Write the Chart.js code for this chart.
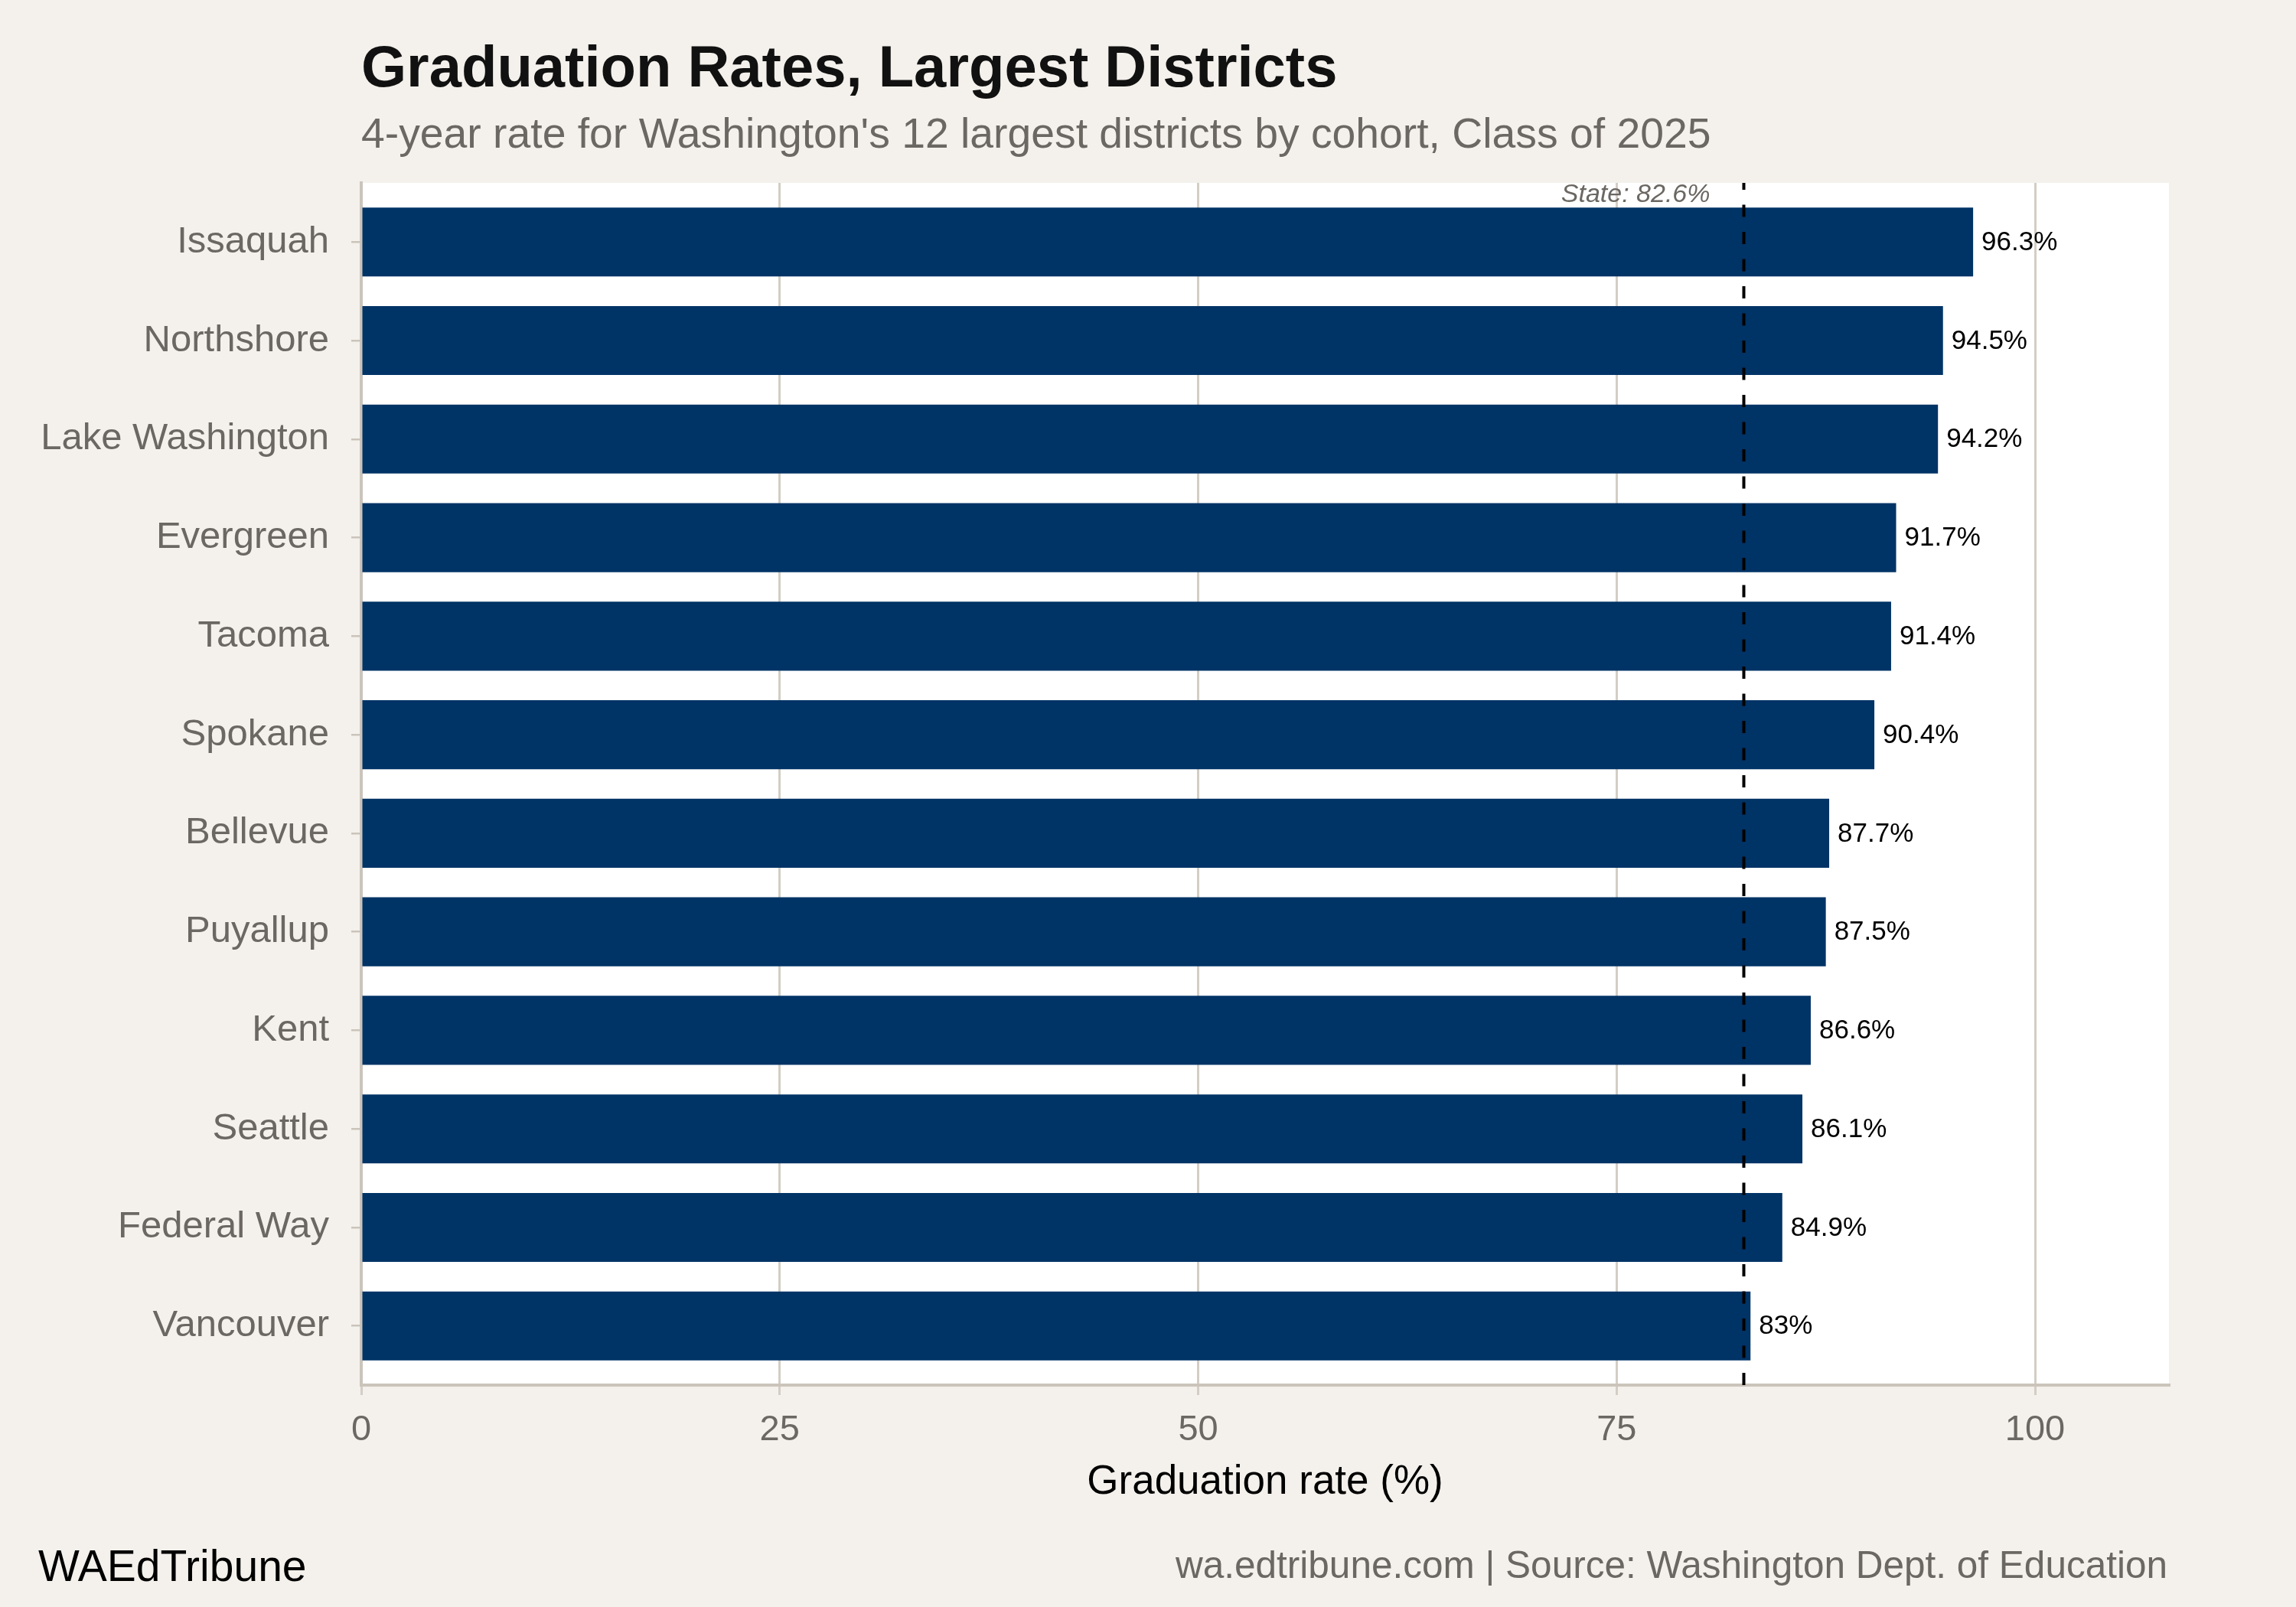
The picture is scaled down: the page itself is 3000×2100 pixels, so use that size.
<!DOCTYPE html>
<html>
<head>
<meta charset="utf-8">
<title>Graduation Rates, Largest Districts</title>
<script src="https://cdn.jsdelivr.net/npm/chart.js@4.4.1/dist/chart.umd.min.js"></script>
<style>
  html, body { margin: 0; padding: 0; background: #f4f1ec; }
  canvas { display: block; }
</style>
</head>
<body>
<canvas id="chart" width="3000" height="2100"></canvas>
<script>
// data, top to bottom as drawn
var districts = ['Issaquah', 'Northshore', 'Lake Washington', 'Evergreen', 'Tacoma', 'Spokane',
  'Bellevue', 'Puyallup', 'Kent', 'Seattle', 'Federal Way', 'Vancouver'];
var rates = [96.3, 94.5, 94.2, 91.7, 91.4, 90.4, 87.7, 87.5, 86.6, 86.1, 84.9, 83];
var xTicks = [0, 25, 50, 75, 100];
var stateRate = 82.6;

var BG = '#f4f1ec';
var BAR = '#003366';
var GRID = '#d3cdc5';
var AXIS = '#cbc4bb';
var GRAY_TEXT = '#6b6762';
var FONT = '"Liberation Sans", Arial, Helvetica, sans-serif';

Chart.defaults.font.family = FONT;

var points = rates.map(function (v, i) { return { x: v, y: i + 1 }; });

var panelPlugin = {
  id: 'panel',
  beforeDraw: function (chart) {
    var ctx = chart.ctx, a = chart.chartArea;
    ctx.save();
    ctx.fillStyle = BG;
    ctx.fillRect(0, 0, chart.width, chart.height);
    ctx.fillStyle = '#ffffff';
    ctx.fillRect(a.left, a.top, a.right - a.left, a.bottom - a.top);
    ctx.restore();
  }
};

var annotatePlugin = {
  id: 'annotate',
  afterDatasetsDraw: function (chart) {
    var ctx = chart.ctx, a = chart.chartArea;
    var xs = chart.scales.x;
    var sx = xs.getPixelForValue(stateRate);

    // value labels
    ctx.save();
    ctx.fillStyle = '#000000';
    ctx.font = '35px ' + FONT;
    ctx.textAlign = 'left';
    ctx.textBaseline = 'middle';
    chart.getDatasetMeta(0).data.forEach(function (bar, i) {
      ctx.fillText(String(rates[i]) + '%', bar.x + 11, bar.y + 1);
    });
    ctx.restore();

    // state average line, dashes laid from the bottom up
    ctx.save();
    ctx.strokeStyle = '#000000';
    ctx.lineWidth = 4;
    ctx.setLineDash([16, 19.5]);
    ctx.beginPath();
    ctx.moveTo(sx, a.bottom);
    ctx.lineTo(sx, a.top);
    ctx.stroke();
    ctx.restore();

    ctx.save();
    ctx.fillStyle = GRAY_TEXT;
    ctx.font = 'italic 34px ' + FONT;
    ctx.textAlign = 'right';
    ctx.textBaseline = 'alphabetic';
    ctx.fillText('State: ' + stateRate + '%', sx - 44, 264);
    ctx.restore();
  },
  afterDraw: function (chart) {
    var ctx = chart.ctx, a = chart.chartArea;
    ctx.save();
    ctx.textBaseline = 'alphabetic';

    ctx.fillStyle = '#111111';
    ctx.textAlign = 'left';
    ctx.font = 'bold 76px ' + FONT;
    ctx.fillText('Graduation Rates, Largest Districts', a.left, 113);

    ctx.fillStyle = GRAY_TEXT;
    ctx.font = '55.3px ' + FONT;
    ctx.fillText("4-year rate for Washington's 12 largest districts by cohort, Class of 2025", a.left, 193);

    ctx.fillStyle = '#000000';
    ctx.textAlign = 'center';
    ctx.font = '53px ' + FONT;
    ctx.fillText('Graduation rate (%)', (a.left + a.right) / 2, 1952);

    ctx.textAlign = 'left';
    ctx.font = '57px ' + FONT;
    ctx.fillText('WAEdTribune', 50, 2066);

    ctx.fillStyle = GRAY_TEXT;
    ctx.textAlign = 'right';
    ctx.font = '49.5px ' + FONT;
    ctx.fillText('wa.edtribune.com | Source: Washington Dept. of Education', a.right - 2, 2062);
    ctx.restore();
  }
};

new Chart(document.getElementById('chart'), {
  type: 'bar',
  data: {
    datasets: [{
      data: points,
      backgroundColor: BAR,
      borderWidth: 0,
      barPercentage: 0.7,
      categoryPercentage: 1.0
    }]
  },
  options: {
    indexAxis: 'y',
    responsive: false,
    animation: false,
    layout: { padding: { top: 239, right: 166, left: 0, bottom: 0 } },
    plugins: {
      legend: { display: false },
      tooltip: { enabled: false }
    },
    scales: {
      x: {
        type: 'linear',
        position: 'bottom',
        min: 0,
        max: 108,
        afterFit: function (s) { s.height = 290; },
        afterBuildTicks: function (s) {
          s.ticks = xTicks.map(function (v) { return { value: v }; });
        },
        ticks: {
          color: GRAY_TEXT,
          font: { size: 47 },
          padding: 18,
          maxRotation: 0
        },
        grid: {
          color: GRID,
          lineWidth: 3,
          tickLength: 13,
          drawTicks: true
        },
        border: { display: true, color: AXIS, width: 4 }
      },
      y: {
        type: 'linear',
        position: 'left',
        reverse: true,
        offset: false,
        min: 0.4,
        max: 12.6,
        afterFit: function (s) { s.width = 472; },
        afterBuildTicks: function (s) {
          s.ticks = districts.map(function (d, i) { return { value: i + 1 }; });
        },
        ticks: {
          color: GRAY_TEXT,
          font: { size: 49 },
          padding: 29,
          callback: function (v) { return districts[Math.round(v) - 1]; }
        },
        grid: {
          offset: false,
          drawOnChartArea: false,
          color: AXIS,
          lineWidth: 2.5,
          tickLength: 13
        },
        border: { display: true, color: AXIS, width: 4 }
      }
    }
  },
  plugins: [panelPlugin, annotatePlugin]
});
</script>
</body>
</html>
